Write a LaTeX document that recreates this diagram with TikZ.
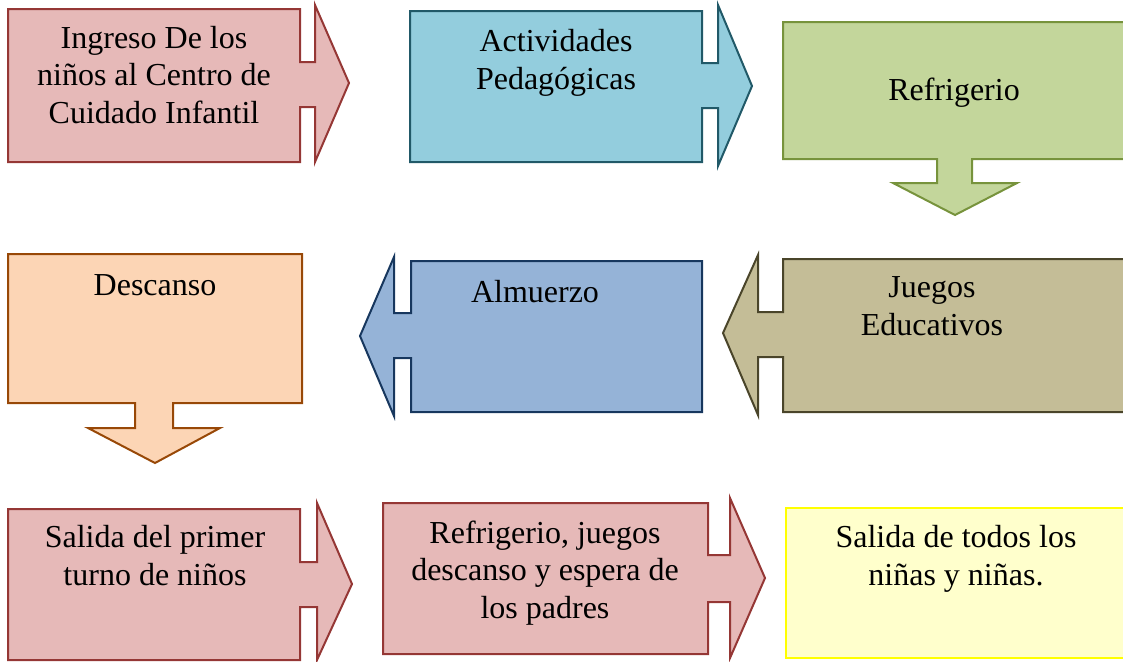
\documentclass[tikz,border=0pt]{standalone}
\usepackage{fontspec}
\setmainfont{Liberation Serif}
\definecolor{redF}{HTML}{E6B9B8}
\definecolor{redD}{HTML}{953735}
\definecolor{tealF}{HTML}{93CDDD}
\definecolor{tealD}{HTML}{215968}
\definecolor{grnF}{HTML}{C3D69B}
\definecolor{grnD}{HTML}{77933C}
\definecolor{orF}{HTML}{FCD5B5}
\definecolor{orD}{HTML}{984807}
\definecolor{bluF}{HTML}{95B3D7}
\definecolor{bluD}{HTML}{17375E}
\definecolor{tanF}{HTML}{C4BD97}
\definecolor{tanD}{HTML}{4A452A}
\definecolor{yelF}{HTML}{FFFFCC}
\definecolor{yelD}{HTML}{FFFF00}
\begin{document}
\begin{tikzpicture}[x=0.75pt,y=-0.75pt,line join=miter,
  shp/.style={line width=1.5pt},
  redshp/.style={shp,fill=redF,draw=redD},
  lbl/.style={anchor=base,align=center,inner sep=0pt,font=\fontsize{24}{28}\selectfont}]
\useasboundingbox (0,0) rectangle (1123,661);
\begin{scope}
\clip (0,0) rectangle (1123,661);
% row 1
\filldraw[redshp] (8,9) -- (300,9) -- (300,62) -- (315,62) -- (315,5) -- (349,83) -- (315,162) -- (315,107) -- (300,107) -- (300,162) -- (8,162) -- cycle;
\filldraw[shp,fill=tealF,draw=tealD] (410,11) -- (702,11) -- (702,63) -- (718,63) -- (718,5) -- (752,86) -- (718,166) -- (718,108) -- (702,108) -- (702,162) -- (410,162) -- cycle;
\filldraw[shp,fill=grnF,draw=grnD] (783,22) -- (1125,22) -- (1125,159) -- (972,159) -- (972,183) -- (1017,183) -- (955,215) -- (893,183) -- (937,183) -- (937,159) -- (783,159) -- cycle;
% row 2
\filldraw[shp,fill=orF,draw=orD] (8,254) -- (302,254) -- (302,403) -- (173,403) -- (173,428) -- (220,428) -- (155,463) -- (88,428) -- (135,428) -- (135,403) -- (8,403) -- cycle;
\filldraw[shp,fill=bluF,draw=bluD] (411,261) -- (702,261) -- (702,412) -- (411,412) -- (411,358) -- (394,358) -- (394,416) -- (360,336) -- (394,257) -- (394,313) -- (411,313) -- cycle;
\filldraw[shp,fill=tanF,draw=tanD] (783,259) -- (1125,259) -- (1125,412) -- (783,412) -- (783,357) -- (758,357) -- (758,415) -- (723,333) -- (758,255) -- (758,312) -- (783,312) -- cycle;
% row 3
\filldraw[redshp] (8,509) -- (300,509) -- (300,562) -- (317,562) -- (317,503) -- (352,584) -- (317,660) -- (317,607) -- (300,607) -- (300,660) -- (8,660) -- cycle;
\filldraw[redshp] (383,503) -- (708,503) -- (708,555) -- (730,555) -- (730,498) -- (765,578) -- (730,658) -- (730,602) -- (708,602) -- (708,654) -- (383,654) -- cycle;
\filldraw[shp,fill=yelF,draw=yelD] (786,508) -- (1125,508) -- (1125,658) -- (786,658) -- cycle;
\end{scope}
% labels (anchor = baseline of the last line)
\node[lbl] (n1) at (154,123) {Ingreso De los\\niños al Centro de\\Cuidado Infantil};
\node[lbl] (n2) at (556,89) {Actividades\\Pedagógicas};
\node[lbl] (n3) at (954,100) {Refrigerio};
\node[lbl] (n4) at (155,295) {Descanso};
\node[lbl] (n5) at (535,302) {Almuerzo};
\node[lbl] (n6) at (932,335) {Juegos\\Educativos};
\node[lbl] (n7) at (155,585) {Salida del primer\\turno de niños};
\node[lbl] (n8) at (545,618) {Refrigerio, juegos\\descanso y espera de\\los padres};
\node[lbl] (n9) at (956,585) {Salida de todos los\\niñas y niñas.};
\end{tikzpicture}
\end{document}
